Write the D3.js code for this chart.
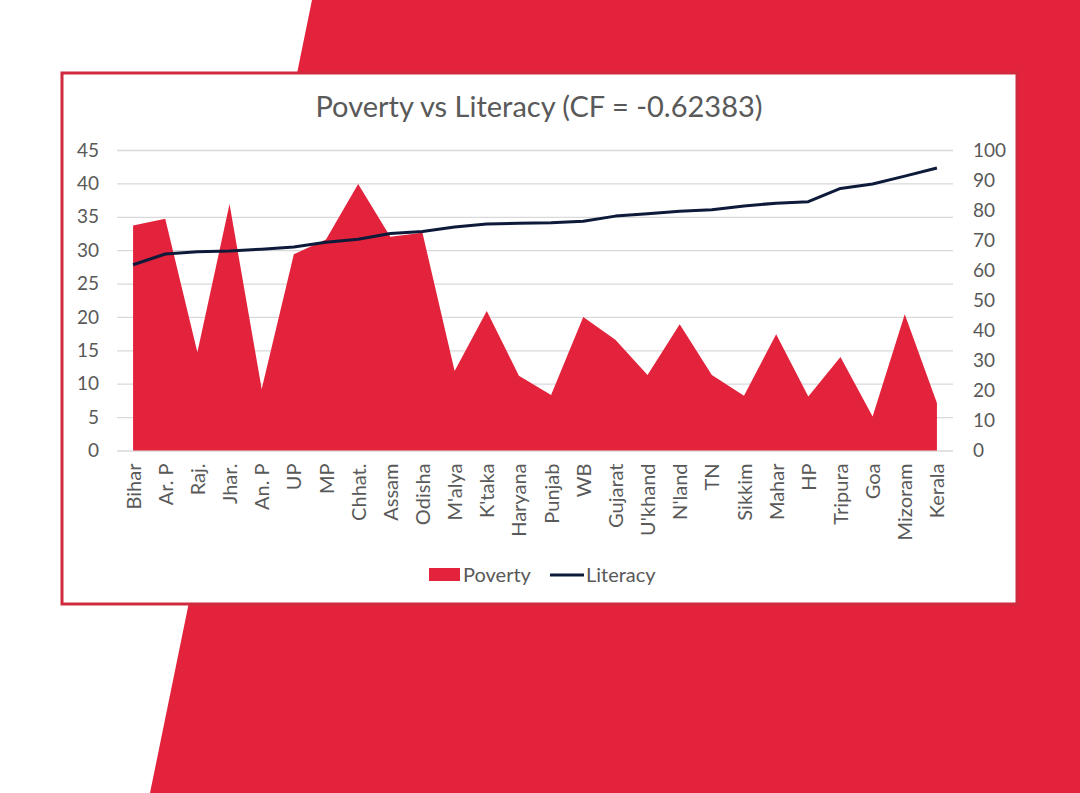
<!DOCTYPE html>
<meta charset="utf-8">
<html>
    <head>
        <style type="text/css">
            body { margin:0; background:#fff; }
            svg { display:block; }
            .graphText { font-family: "Lato", "Open Sans", sans-serif; fill: #595959; }
        </style>
        <script src="https://d3js.org/d3.v7.min.js"></script>
    </head>
    <body>
        <svg width="1080" height="793"></svg>
        <script type="text/javascript">
            // states, sorted by literacy
            var states = ["Bihar", "Ar. P", "Raj.", "Jhar.", "An. P", "UP", "MP", "Chhat.", "Assam", "Odisha",
                "M'alya", "K'taka", "Haryana", "Punjab", "WB", "Gujarat", "U'khand", "N'land", "TN", "Sikkim",
                "Mahar", "HP", "Tripura", "Goa", "Mizoram", "Kerala"];
            var poverty = [33.7, 34.7, 14.7, 36.9, 9.2, 29.4, 31.6, 39.9, 32.0, 32.6,
                11.9, 20.9, 11.2, 8.3, 20.0, 16.6, 11.3, 18.9, 11.3, 8.2,
                17.4, 8.1, 14.0, 5.1, 20.4, 7.1];
            var literacy = [61.8, 65.4, 66.1, 66.4, 67.0, 67.7, 69.3, 70.3, 72.2, 72.9,
                74.4, 75.4, 75.6, 75.8, 76.3, 78.0, 78.8, 79.6, 80.1, 81.4,
                82.3, 82.8, 87.2, 88.7, 91.3, 94.0];
            var leftTicks = [0, 5, 10, 15, 20, 25, 30, 35, 40, 45];
            var rightTicks = [0, 10, 20, 30, 40, 50, 60, 70, 80, 90, 100];

            var red = "#e3223b";
            var navy = "#0d1a3a";
            var plot = {left: 117, right: 953, top: 150, bottom: 450.5};

            var svg = d3.select("svg");

            // red backdrop
            svg.append("polygon")
                .attr("points", [[312, 0], [1080, 0], [1080, 793], [150, 793]].join(" "))
                .attr("fill", red);

            // white card
            svg.append("rect")
                .attr("x", 62).attr("y", 73)
                .attr("width", 955).attr("height", 531)
                .attr("fill", "#fff")
                .attr("stroke", "#cf2a3e")
                .attr("stroke-width", 3);

            var xScale = d3.scalePoint()
                .domain(states)
                .range([plot.left, plot.right])
                .padding(0.5);
            var yLeft = d3.scaleLinear().domain([0, 45]).range([plot.bottom, plot.top]);
            var yRight = d3.scaleLinear().domain([0, 100]).range([plot.bottom, plot.top]);

            // gridlines
            svg.append("g")
                .attr("transform", "translate(" + [plot.left, 0] + ")")
                .call(d3.axisLeft(yLeft).tickValues(leftTicks).tickSize(-(plot.right - plot.left)).tickFormat(""))
                .call(g => g.select(".domain").remove())
                .call(g => g.selectAll("line").attr("stroke", "#d9d9d9").attr("stroke-width", 1.3));

            // poverty area
            var area = d3.area()
                .x((d, i) => xScale(states[i]))
                .y0(yLeft(0))
                .y1(d => yLeft(d));
            svg.append("path")
                .datum(poverty)
                .attr("d", area)
                .attr("fill", red);

            // literacy line
            var line = d3.line()
                .x((d, i) => xScale(states[i]))
                .y(d => yRight(d));
            svg.append("path")
                .datum(literacy)
                .attr("d", line)
                .attr("fill", "none")
                .attr("stroke", navy)
                .attr("stroke-width", 3)
                .attr("stroke-linejoin", "round");

            // left axis labels
            svg.append("g")
                .attr("transform", "translate(" + [plot.left, 0] + ")")
                .call(d3.axisLeft(yLeft).tickValues(leftTicks).tickSize(0).tickPadding(18))
                .call(g => g.select(".domain").remove())
                .call(g => g.selectAll("text").attr("fill", "#595959")
                    .style("font-family", "Lato, sans-serif").style("font-size", "19px"));

            // right axis labels
            svg.append("g")
                .attr("transform", "translate(" + [plot.right, 0] + ")")
                .call(d3.axisRight(yRight).tickValues(rightTicks).tickSize(0).tickPadding(20))
                .call(g => g.select(".domain").remove())
                .call(g => g.selectAll("text").attr("fill", "#595959")
                    .style("font-family", "Lato, sans-serif").style("font-size", "19px"));

            // category labels
            svg.append("g")
                .attr("transform", "translate(" + [0, plot.bottom] + ")")
                .call(d3.axisBottom(xScale).tickSize(0).tickPadding(0))
                .call(g => g.select(".domain").remove())
                .call(g => g.selectAll("text")
                    .attr("fill", "#595959")
                    .style("font-family", "Lato, sans-serif").style("font-size", "20px")
                    .attr("text-anchor", "end")
                    .attr("dy", "0.35em")
                    .attr("transform", "translate(0,13) rotate(-90)")
                    .attr("x", 0).attr("y", 0));

            // title
            svg.append("text")
                .attr("class", "graphText")
                .attr("x", 539)
                .attr("y", 117)
                .style("text-anchor", "middle")
                .style("font-size", "29px")
                .text("Poverty vs Literacy (CF = -0.62383)");

            // legend
            var legend = svg.append("g").attr("class", "graphText").style("font-size", "20px");
            legend.append("rect")
                .attr("x", 429).attr("y", 568).attr("width", 31).attr("height", 13)
                .attr("fill", red);
            legend.append("text").attr("x", 463).attr("y", 582).text("Poverty");
            legend.append("line")
                .attr("x1", 550).attr("x2", 584).attr("y1", 575).attr("y2", 575)
                .attr("stroke", navy).attr("stroke-width", 3);
            legend.append("text").attr("x", 586).attr("y", 582).text("Literacy");
        </script>
    </body>
</html>
